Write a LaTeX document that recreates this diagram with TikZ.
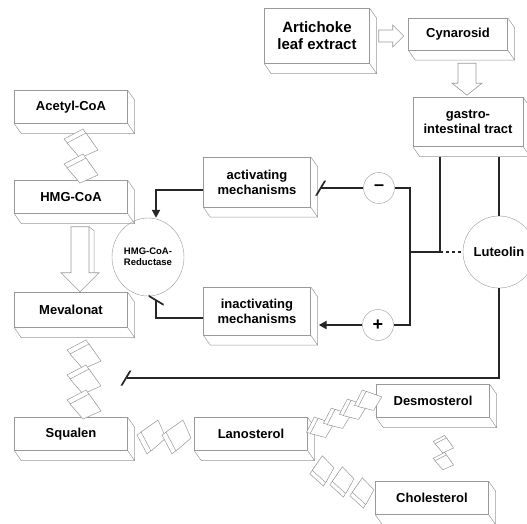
\documentclass[tikz,border=0pt]{standalone}
\usepackage{fontspec}
\setmainfont{Liberation Sans}
\usetikzlibrary{positioning, shapes.geometric, arrows.meta}
\tikzstyle{chemBox} = [rectangle, draw=black!40, fill=white, align=center, font=\bfseries\fontsize{13}{15}\selectfont, minimum width=113pt, minimum height=33pt, inner sep=1pt]
\tikzstyle{depth} = [draw=black!40, line width=0.5pt]
\tikzstyle{hollow} = [draw=black!40, fill=white, line width=0.6pt]
\tikzstyle{plate} = [draw=black!40, fill=white, line width=0.5pt]
\tikzstyle{wire} = [line width=2pt, black!85]
\tikzstyle{sign} = [circle, draw=black!40, fill=white, minimum size=31pt, inner sep=0pt, font=\bfseries\fontsize{18}{18}\selectfont]
\tikzstyle{inhibit} = [-{Bar[width=15pt, slant=0.6]}]
\tikzstyle{activate} = [-{Triangle[length=8pt, width=8pt]}]
\newcommand{\flowplate}[4]{%
	\begin{scope}[shift={(#1,#2)}, rotate=#3, scale=#4]
		\draw[plate] (-18,-6) -- (1,-16) -- (13,1) -- (-5,9) -- cycle;
		\draw[plate] (-15,-2) -- (4,-12) -- (16,5) -- (-2,13) -- cycle;
	\end{scope}}

\begin{document}
\begin{tikzpicture}[x=1pt, y=-1pt]
	\useasboundingbox (0,0) rectangle (527,523);
	%	top row
		\node [chemBox, minimum width=105pt, minimum height=55pt, font=\bfseries\fontsize{15}{17}\selectfont](artichoke) at (317,36){Artichoke\\leaf extract};
		\node [chemBox, minimum width=99pt, minimum height=32pt](cynarosid) at (458,34){Cynarosid};
		\node [chemBox, minimum width=110pt, minimum height=49pt](gastro) at (468,122){gastro-\\intestinal tract};
	%	left column
		\node [chemBox](acetyl) at (71,107){Acetyl-CoA};
		\node [chemBox, node distance=90pt, below of=acetyl](hmg){HMG-CoA};
		\node [chemBox, minimum height=35pt, node distance=113pt, below of=hmg](mevalonat){Mevalonat};
		\node [chemBox, node distance=124pt, below of=mevalonat](squalen){Squalen};
		\node [chemBox, node distance=180pt, right of=squalen](lanosterol){Lanosterol};
		\node [chemBox](desmosterol) at (433,401){Desmosterol};
		\node [chemBox](cholesterol) at (432,498){Cholesterol};
	%	mechanisms
		\node [chemBox, minimum width=107pt, minimum height=50pt](activating) at (257,182){activating\\mechanisms};
		\node [chemBox, minimum width=107pt, minimum height=48pt](inactivating) at (257,311){inactivating\\mechanisms};
		\node [ellipse, draw=black!40, minimum width=72pt, minimum height=78pt, inner sep=0pt, align=center, font=\bfseries\fontsize{9.5}{11}\selectfont](reductase) at (148,257){HMG-CoA-\\Reductase};
		\node [circle, draw=black!40, minimum size=72pt, font=\bfseries\fontsize{13}{15}\selectfont](luteolin) at (499,252){Luteolin};
		\node [sign](minus) at (379,188){--};
		\node [sign](plus) at (378,325){+};

		\foreach \n in {artichoke, cynarosid, gastro, acetyl, hmg, mevalonat, squalen, lanosterol, desmosterol, cholesterol, activating, inactivating}
			\draw[depth] (\n.north east) -- ([shift={(7,10)}]\n.north east) -- ([shift={(7,10)}]\n.south east) -- ([shift={(7,10)}]\n.south west) -- (\n.south west) (\n.south east) -- ([shift={(7,10)}]\n.south east);

	%	hollow arrows
		\draw[hollow] ([shift={(9,-6)}]artichoke.east) -- ++(14,0) -- ++(0,-5) -- ++(11,11) -- ++(-11,11) -- ++(0,-5) -- ++(-14,0) -- cycle;
		\draw[hollow] ([shift={(0,13)}]cynarosid.south) -- ++(18,0) -- ++(0,20) -- ++(6,0) -- ++(-15,12) -- ++(-15,-12) -- ++(6,0) -- cycle;
		\draw[hollow] ([shift={(0,13)}]hmg.south) -- ++(18,0) -- ++(0,46) -- ++(10,0) -- ++(-19,19) -- ++(-19,-19) -- ++(10,0) -- cycle;
		\draw[depth] ([shift={(18,13)}]hmg.south) -- ++(5,4) -- ++(0,42);

	%	plates
		\foreach \y in {145,170} \flowplate{82}{\y}{0}{1};
		\foreach \y in {356,381,406} \flowplate{85}{\y}{0}{1};
		\foreach \x in {153,178} \flowplate{\x}{436}{90}{1};
		\foreach \x/\y in {321/428,338/419,354/410,369/401} \flowplate{\x}{\y}{35}{0.8};
		\foreach \x/\y in {323/470,343/481,363/492} \flowplate{\x}{\y}{110}{0.85};
		\foreach \y in {445,462} \flowplate{444}{\y}{0}{0.6};

	%	connectors
		\coordinate (split) at (410,252);
		\coordinate (join) at (440,252);
		\coordinate (sterolbar) at (125,378);
		\draw[wire] ([yshift=-10pt]gastro.south -| join) -- (join);
		\draw[wire] ([yshift=-10pt]gastro.south -| luteolin.north) -- (luteolin.north);
		\draw[wire, dashed] (join) -- (luteolin.west);
		\draw[wire] (minus.east) -| (split) |- (plus.east);
		\draw[wire] (split) -- (join);
		\draw[wire, inhibit] (minus.west) -- ([xshift=9pt]minus.west -| activating.east);
		\draw[wire, activate] (plus.west) -- ([xshift=8pt]plus.west -| inactivating.east);
		\draw[wire, activate] ([yshift=-8pt]activating.west) -| ([xshift=8pt]reductase.north);
		\draw[wire, inhibit, shorten >=3pt] ([yshift=-7pt]inactivating.west) -| ([xshift=8pt]reductase.south);
		\draw[wire, inhibit] (luteolin.south) |- (sterolbar);

\end{tikzpicture}
\end{document}
